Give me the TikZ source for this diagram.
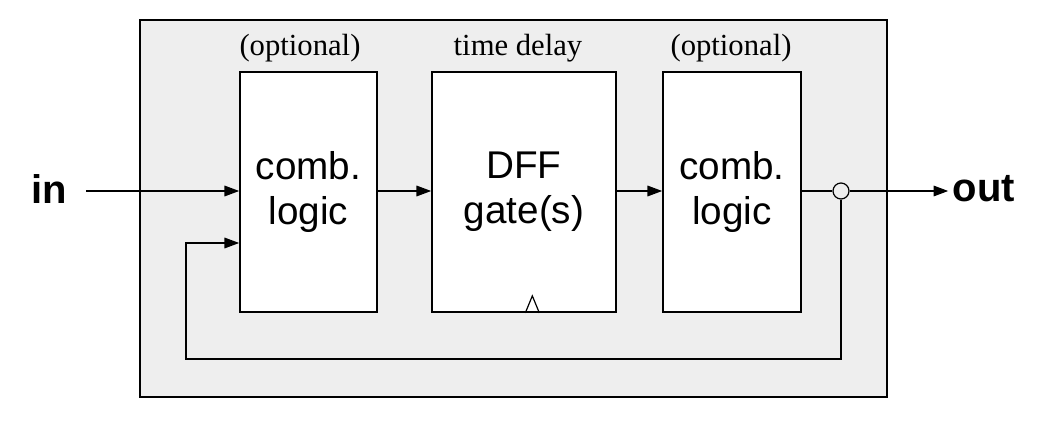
\documentclass[tikz,border=0pt]{standalone}
\usepackage{fontspec}
\setmainfont{Liberation Serif}
\newfontfamily\blocksans{Liberation Sans}
\usetikzlibrary{arrows.meta}
\definecolor{panel}{HTML}{EEEEEE}

\begin{document}
\begin{tikzpicture}[x=0.75pt,y=-0.75pt,
    blockbox/.style={draw=black, line width=1.3pt, fill=white, minimum height=180pt,
      inner sep=0pt, align=center, font=\blocksans\fontsize{29}{34}\selectfont},
    toplabel/.style={font=\fontsize{23}{26}\selectfont},
    iolabel/.style={font=\blocksans\bfseries\fontsize{30}{34}\selectfont},
    wire/.style={line width=0.9pt},
    arr/.style={wire, -{Triangle[length=11pt,width=8pt]}}]
      \useasboundingbox (0,0) rectangle (1050,424);

      % Grey panel round the circuit
      \fill[panel] (140,20) rectangle (887,397);
      \draw[line width=1.4pt] (140,20) rectangle (887,397);

      % Labels over the blocks
      \node[toplabel] (opt1) at (300,48) {(optional)};
      \node[toplabel] (delay) at (518,48) {time delay};
      \node[toplabel] (opt2) at (731,48) {(optional)};

      % Blocks
      \node[blockbox, minimum width=102.75pt] (cl1) at (308.5,192) {comb.\\logic};
      \node[blockbox, minimum width=138pt] (dff) at (524,192) {DFF\\gate(s)};
      \node[blockbox, minimum width=103.5pt] (cl2) at (732,192) {comb.\\logic};

      % Clock mark of the DFF
      \draw[wire] ([xshift=1pt]dff.south) -- ++(7,-17) -- ++(7,17);

      % Input and output
      \node[iolabel] (in) at (49,189) {in};
      \node[iolabel] (out) at (984,189) {out};
      \coordinate (instart) at (86,191);
      \draw[arr] (instart) -- (instart -| cl1.west);

      \draw[arr] (cl1.east |- instart) -- (dff.west |- instart);
      \draw[arr] (dff.east |- instart) -- (cl2.west |- instart);

      \node[draw, circle, wire, minimum size=12pt, inner sep=0pt] (join) at (841,191) {};
      \draw[wire] (cl2.east |- join) -- (join);
      \draw[arr] (join) -- (join -| out.west);

      % Feedback loop
      \coordinate (loopbr) at (841,359);
      \coordinate (loopbl) at (186,359);
      \coordinate (fbin) at (186,243);
      \draw[arr] (join) -- (loopbr) -- (loopbl) -- (fbin) -- (fbin -| cl1.west);
    \end{tikzpicture}
\end{document}
